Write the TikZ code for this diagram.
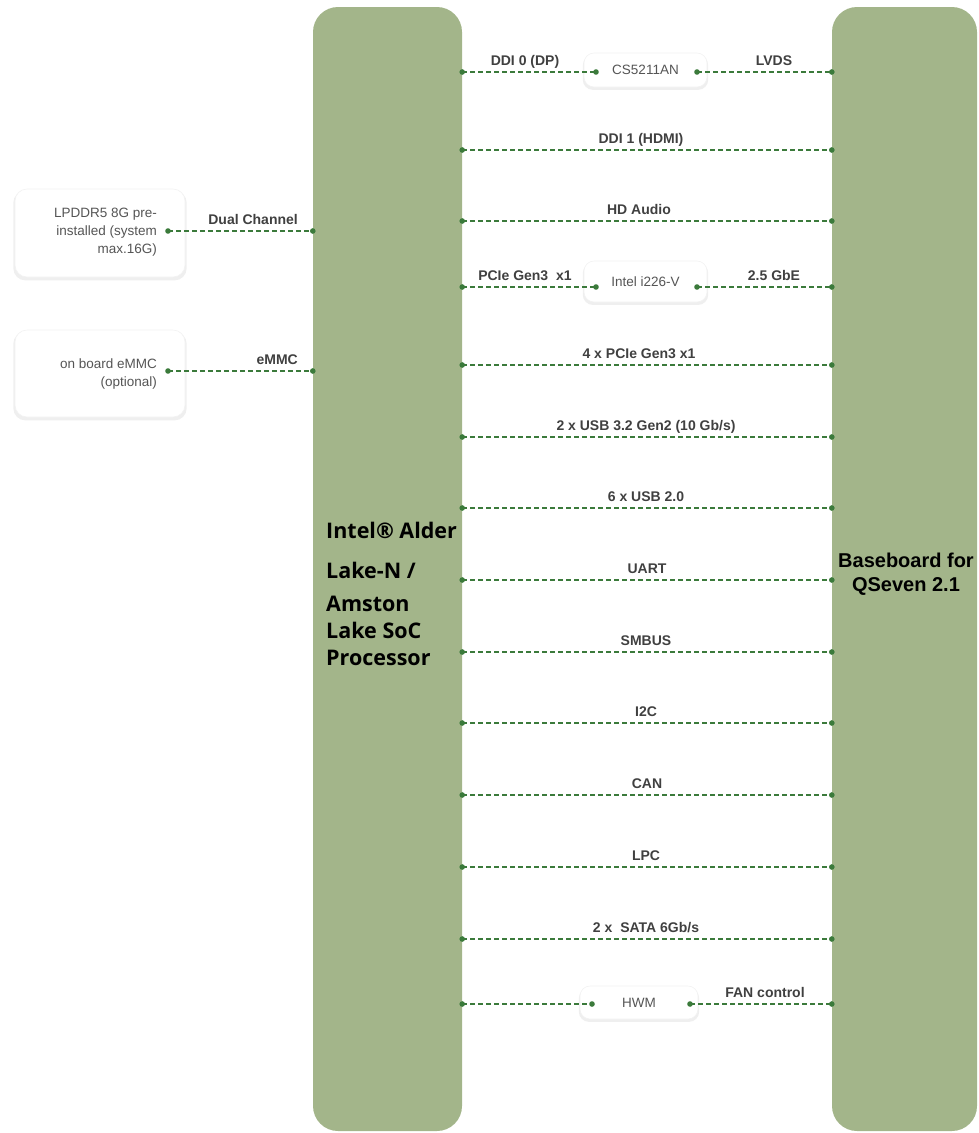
\documentclass[tikz,border=0pt]{standalone}
\usepackage{fontspec}
\setmainfont{Liberation Sans}
\newfontfamily\procfont{Open Sans}
\usetikzlibrary{shadows}
\definecolor{barfill}{HTML}{A3B58A}
\definecolor{wire}{HTML}{3B7A3B}
\definecolor{lbl}{HTML}{404040}
\definecolor{boxtxt}{HTML}{555555}
\begin{document}
\begin{tikzpicture}[x=1pt,y=-1pt,
  barbox/.style={fill=barfill, draw=none, rounded corners=25pt, inner sep=0pt},
  chip/.style={fill=white, draw=black!5, line width=0.6pt, rounded corners=10pt,
    drop shadow={opacity=0.13, shadow xshift=0pt, shadow yshift=-2.5pt, shadow scale=1.02},
    text=boxtxt, font=\fontsize{13.5}{17}\selectfont, inner sep=0pt},
  chiptext/.style={text=boxtxt, font=\fontsize{13.5}{18}\selectfont, inner sep=0pt, align=right, anchor=east},
  lab/.style={text=lbl, font=\bfseries\fontsize{14}{16}\selectfont, anchor=base, inner sep=0pt},
  proctext/.style={font=\procfont\bfseries\fontsize{21.5}{26}\selectfont, anchor=base west, inner sep=0pt, text=black},
  basetext/.style={font=\bfseries\fontsize{20}{24}\selectfont, anchor=base, inner sep=0pt, text=black},
  conn/.style={draw=wire, line width=1.2pt, dash pattern=on 4.5pt off 3.5pt},
  dot/.style={fill=wire}]
\useasboundingbox (0,0) rectangle (978,1133);

% main bars
\node[barbox, minimum width=149pt, minimum height=1124pt] (proc) at (387.5,569) {};
\node[barbox, minimum width=145pt, minimum height=1124pt] (base) at (904.5,569) {};

\node[proctext] (pt1) at (326,538) {Intel® Alder};
\node[proctext] (pt2) at (326,578) {Lake-N /};
\node[proctext] (pt3) at (326,611) {Amston};
\node[proctext] (pt4) at (326,638) {Lake SoC};
\node[proctext] (pt5) at (326,665) {Processor};

\node[basetext] (bt1) at (906,567) {Baseboard for};
\node[basetext] (bt2) at (906,591) {QSeven 2.1};

% left boxes
\node[chip, rounded corners=12pt, minimum width=170pt, minimum height=88pt] (mem) at (100,233) {};
\node[chiptext] (memtxt) at (157,232) {LPDDR5 8G pre-\\installed (system\\max.16G)};
\coordinate (memport) at (168,231);
\coordinate (memend) at (proc.west |- memport);
\draw[conn] (memport) -- (memend);
\fill[dot] (memport) circle (2.8pt) (memend) circle (2.8pt);
\node[lab, anchor=base east] (memlab) at (298,224) {Dual Channel};

\node[chip, rounded corners=12pt, minimum width=170pt, minimum height=87pt] (emmc) at (100,373.5) {};
\node[chiptext] (emmctxt) at (157,374.5) {on board eMMC\\(optional)};
\coordinate (emmcport) at (168,371);
\coordinate (emmcend) at (proc.west |- emmcport);
\draw[conn] (emmcport) -- (emmcend);
\fill[dot] (emmcport) circle (2.8pt) (emmcend) circle (2.8pt);
\node[lab, anchor=base east] (emmclab) at (298,364) {eMMC};

% CS5211AN
\node[chip, minimum width=123pt, minimum height=34pt] (cs) at (645.5,70) {CS5211AN};
\coordinate (csin) at (596,72);
\coordinate (csout) at (697,72);
\coordinate (csa) at (proc.east |- csin);
\coordinate (csb) at (base.west |- csout);
\draw[conn] (csa) -- (csin);
\draw[conn] (csout) -- (csb);
\fill[dot] (csa) circle (2.8pt) (csin) circle (2.8pt) (csout) circle (2.8pt) (csb) circle (2.8pt);
\node[lab] (cslab1) at (525,65) {DDI 0 (DP)};
\node[lab] (cslab2) at (774,65) {LVDS};

% Intel i226-V
\node[chip, minimum width=123pt, minimum height=41pt] (nic) at (645.5,281.5) {Intel i226-V};
\coordinate (nicin) at (596,287);
\coordinate (nicout) at (697,287);
\coordinate (nica) at (proc.east |- nicin);
\coordinate (nicb) at (base.west |- nicout);
\draw[conn] (nica) -- (nicin);
\draw[conn] (nicout) -- (nicb);
\fill[dot] (nica) circle (2.8pt) (nicin) circle (2.8pt) (nicout) circle (2.8pt) (nicb) circle (2.8pt);
\node[lab] (niclab1) at (525,280) {PCIe Gen3\hspace{4pt} x1};
\node[lab] (niclab2) at (774,280) {2.5 GbE};

% HWM
\node[chip, minimum width=118pt, minimum height=33pt] (hwm) at (639,1002.5) {HWM};
\coordinate (hwmin) at (592,1004);
\coordinate (hwmout) at (690,1004);
\coordinate (hwma) at (proc.east |- hwmin);
\coordinate (hwmb) at (base.west |- hwmout);
\draw[conn] (hwma) -- (hwmin);
\draw[conn] (hwmout) -- (hwmb);
\fill[dot] (hwma) circle (2.8pt) (hwmin) circle (2.8pt) (hwmout) circle (2.8pt) (hwmb) circle (2.8pt);
\node[lab] (hwmlab) at (765,997) {FAN control};

% direct links
\foreach \yy/\lx/\txt [count=\i] in {
  150/641/{DDI 1 (HDMI)},
  221/639/{HD Audio},
  365/639/{4 x PCIe Gen3 x1},
  437/646/{2 x USB 3.2 Gen2 (10 Gb/s)},
  508/646/{6 x USB 2.0},
  580/647/{UART},
  652/646/{SMBUS},
  723/646/{I2C},
  795/647/{CAN},
  867/646/{LPC},
  939/646/{2 x\hspace{4pt} SATA 6Gb/s}}{
  \coordinate (a\i) at (proc.east |- 0,\yy);
  \coordinate (b\i) at (base.west |- 0,\yy);
  \draw[conn] (a\i) -- (b\i);
  \fill[dot] (a\i) circle (2.8pt) (b\i) circle (2.8pt);
  \node[lab] (l\i) at (\lx,\yy-7) {\txt};
}
\end{tikzpicture}
\end{document}
